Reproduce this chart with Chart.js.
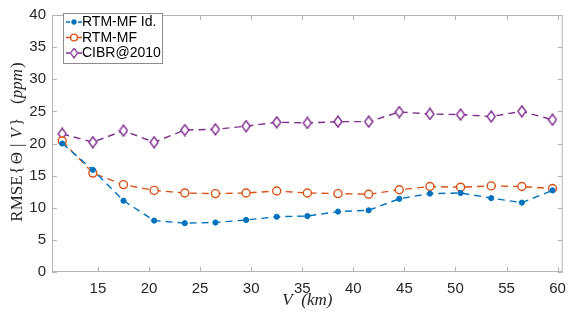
<!DOCTYPE html>
<html>
<head>
<meta charset="utf-8">
<script src="https://cdn.jsdelivr.net/npm/chart.js@4.4.0/dist/chart.umd.min.js"></script>
<style>
  html, body { margin: 0; padding: 0; background: #fff; }
  #wrap { width: 574px; height: 322px; }
</style>
</head>
<body>
<div id="wrap"><canvas id="rmseChart"></canvas></div>
<script>
// visibility V (km)
var distances = [11.5, 14.5, 17.5, 20.5, 23.5, 26.5, 29.5, 32.5, 35.5, 38.5, 41.5, 44.5, 47.5, 50.5, 53.5, 56.5, 59.5];
var rtmIdeal = [20.0, 15.9, 11.1, 8.0, 7.6, 7.7, 8.1, 8.6, 8.7, 9.4, 9.6, 11.4, 12.2, 12.3, 11.5, 10.8, 12.7];
var rtmMf = [20.4, 15.4, 13.6, 12.7, 12.3, 12.2, 12.3, 12.6, 12.3, 12.2, 12.1, 12.8, 13.3, 13.2, 13.4, 13.3, 13.0];
var cibr = [21.5, 20.2, 22.0, 20.2, 22.1, 22.2, 22.7, 23.3, 23.2, 23.4, 23.4, 24.9, 24.6, 24.5, 24.2, 25.0, 23.7];
var seriesNames = ['RTM-MF Id.', 'RTM-MF', 'CIBR@2010'];
var xTicks = [15, 20, 25, 30, 35, 40, 45, 50, 55, 60];
var yTicks = [0, 5, 10, 15, 20, 25, 30, 35, 40];

var axisGrey = '#b4b4b4';
var tickFont = { family: 'Liberation Sans, Arial, sans-serif', size: 15 };
var serif = 'Liberation Serif, serif';
var dash = [7, 5];

function pts(vals) {
  return vals.map(function (v, i) { return { x: distances[i], y: v }; });
}

// narrow matlab-like diamond marker
function makeDiamond(color) {
  var cv = document.createElement('canvas');
  cv.width = 10; cv.height = 13;
  var c = cv.getContext('2d');
  c.fillStyle = '#fff';
  c.strokeStyle = color;
  c.lineWidth = 1.4;
  c.beginPath();
  c.moveTo(5, 1); c.lineTo(9, 6.5); c.lineTo(5, 12); c.lineTo(1, 6.5); c.closePath();
  c.fill(); c.stroke();
  return cv;
}
var diamond = makeDiamond('#7E2F8E');

// MATLAB style box with inward ticks on all four sides
var boxPlugin = {
  id: 'boxPlugin',
  beforeDatasetsDraw: function (chart) {
    var c = chart.ctx, a = chart.chartArea;
    var xs = chart.scales.x, ys = chart.scales.y;
    c.save();
    c.strokeStyle = axisGrey;
    c.lineWidth = 1;
    c.strokeRect(a.left + 0.5, a.top + 0.5, a.right - a.left - 1, a.bottom - a.top - 1);
    c.beginPath();
    xTicks.forEach(function (t) {
      var px = Math.round(xs.getPixelForValue(t)) + 0.5;
      c.moveTo(px, a.bottom); c.lineTo(px, a.bottom - 5);
      c.moveTo(px, a.top); c.lineTo(px, a.top + 5);
    });
    yTicks.forEach(function (t) {
      var py = Math.round(ys.getPixelForValue(t)) + 0.5;
      c.moveTo(a.left, py); c.lineTo(a.left + 5, py);
      c.moveTo(a.right, py); c.lineTo(a.right - 5, py);
    });
    c.stroke();

    // y axis title with mixed upright / italic pieces: [text, style, gap after]
    var parts = [['RMSE', '', 1], ['{', '', 2], ['\u0398', '', 5], ['|', '', 5], ['V', 'italic ', 2],
                 ['}', '', 14], ['(', '', 0], ['ppm', 'italic ', 1], [')', '', 0]];
    var size = 17;
    var total = 0;
    parts.forEach(function (p) { c.font = p[1] + size + 'px ' + serif; total += c.measureText(p[0]).width + p[2]; });
    c.translate(18, 142);
    c.rotate(-Math.PI / 2);
    c.fillStyle = '#262626';
    c.textBaseline = 'middle';
    var x = -total / 2;
    parts.forEach(function (p) {
      c.font = p[1] + size + 'px ' + serif;
      c.fillText(p[0], x, 0);
      x += c.measureText(p[0]).width + p[2];
    });
    c.restore();
  }
};

// legend in a bordered box, line + marker samples
var legendPlugin = {
  id: 'boxLegend',
  afterDraw: function (chart) {
    var c = chart.ctx;
    var x0 = 63, y0 = 13, w = 99, h = 50;
    c.save();
    c.fillStyle = '#fff';
    c.fillRect(x0, y0, w, h);
    c.strokeStyle = '#8c8c8c';
    c.lineWidth = 1;
    c.strokeRect(x0 + 0.5, y0 + 0.5, w, h);
    c.font = '14px Liberation Sans, Arial, sans-serif';
    c.textBaseline = 'middle';
    chart.data.datasets.forEach(function (ds, i) {
      var y = y0 + 9 + i * 15.5;
      var mx = x0 + 11;
      c.strokeStyle = ds.borderColor;
      c.lineWidth = 1.3;
      c.setLineDash([4, 2]);
      c.beginPath(); c.moveTo(x0 + 3, y); c.lineTo(x0 + 19, y); c.stroke();
      c.setLineDash([]);
      if (ds.pointStyle === 'circle') {
        c.fillStyle = ds.pointBackgroundColor;
        c.lineWidth = ds.pointBorderWidth;
        c.beginPath();
        c.arc(mx, y, i === 0 ? 2.3 : 3.4, 0, Math.PI * 2);
        c.fill(); c.stroke();
      } else {
        c.drawImage(ds.pointStyle, mx - 4.5, y - 5.5, 9, 11);
      }
      c.fillStyle = '#000';
      c.fillText(ds.label, x0 + 19, y + 0.5);
    });
    c.restore();
  }
};

var ctx = document.getElementById('rmseChart');
var rmseChart = new Chart(ctx, {
  type: 'line',
  data: {
    datasets: [{
      label: seriesNames[0],
      data: pts(rtmIdeal),
      borderColor: '#0072BD',
      backgroundColor: '#0072BD',
      pointBackgroundColor: '#0072BD',
      pointStyle: 'circle',
      pointRadius: 2.6,
      pointBorderWidth: 1,
      borderWidth: 1.4,
      borderDash: dash
    }, {
      label: seriesNames[1],
      data: pts(rtmMf),
      borderColor: '#D95319',
      backgroundColor: '#fff',
      pointBackgroundColor: '#fff',
      pointStyle: 'circle',
      pointRadius: 4,
      pointBorderWidth: 1.4,
      borderWidth: 1.4,
      borderDash: dash
    }, {
      label: seriesNames[2],
      data: pts(cibr),
      borderColor: '#7E2F8E',
      backgroundColor: '#fff',
      pointBackgroundColor: '#fff',
      pointStyle: diamond,
      pointRadius: 5,
      borderWidth: 1.4,
      borderDash: dash
    }]
  },
  options: {
    responsive: true,
    maintainAspectRatio: false,
    animation: false,
    layout: { padding: { top: 5, right: 4, left: 0, bottom: 0 } },
    elements: { line: { tension: 0 } },
    plugins: { legend: { display: false }, tooltip: { enabled: false } },
    scales: {
      x: {
        type: 'linear',
        min: 10.5,
        max: 60.5,
        afterBuildTicks: function (s) { s.ticks = xTicks.map(function (v) { return { value: v }; }); },
        afterFit: function (s) { s.height = 50; },
        grid: { display: false, drawTicks: false },
        border: { display: false },
        ticks: { color: '#262626', font: tickFont, padding: 8, maxRotation: 0, autoSkip: false },
        title: {
          display: true,
          text: 'V  (km)',
          color: '#262626',
          font: { family: serif, size: 17, style: 'italic' },
          padding: { top: 0, bottom: 11 }
        }
      },
      y: {
        min: 0,
        max: 40,
        afterBuildTicks: function (s) { s.ticks = yTicks.map(function (v) { return { value: v }; }); },
        afterFit: function (s) { s.width = 52; },
        grid: { display: false, drawTicks: false },
        border: { display: false },
        ticks: { color: '#262626', font: tickFont, padding: 6 },
        title: { display: false }
      }
    }
  },
  plugins: [boxPlugin, legendPlugin]
});
</script>
</body>
</html>
